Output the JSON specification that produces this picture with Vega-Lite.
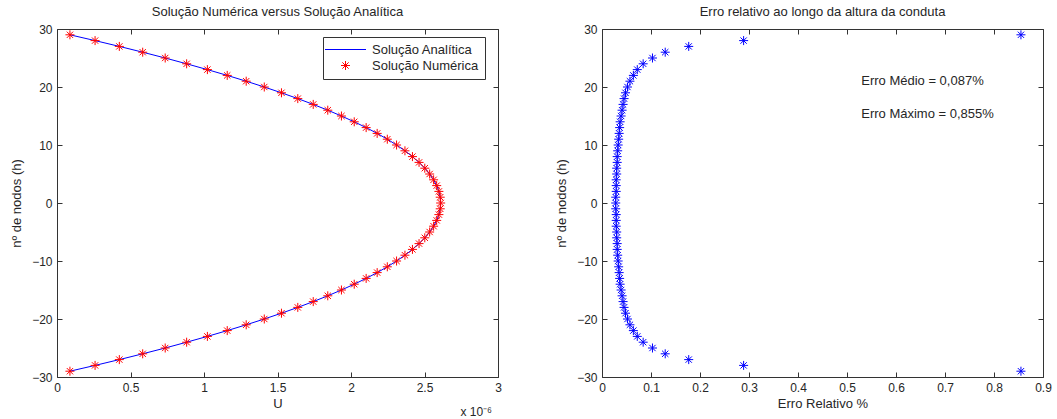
{
  "$schema": "https://vega.github.io/schema/vega-lite/v6.json",
  "padding": {"left": 10, "top": 5, "right": 5, "bottom": 2},
  "background": "white",
  "config": {
    "font": "Liberation Sans",
    "view": {"stroke": "#333333", "strokeWidth": 1},
    "axis": {
      "grid": false, "domain": false, "tickSize": -5, "tickColor": "#333333", "tickWidth": 1,
      "labelFontSize": 12, "labelColor": "#262626", "labelPadding": 10, "labelFlush": false, "labelOverlap": false,
      "titleFontSize": 13, "titleFontWeight": "normal", "titleColor": "#262626"
    },
    "title": {"fontSize": 13, "fontWeight": "normal", "color": "#262626", "offset": 0}
  },
  "datasets": {
    "perfil": [
      {"h": 29, "ana": 0.088, "num": 0.088}, {"h": 28, "ana": 0.259, "num": 0.259}, {"h": 27, "ana": 0.424, "num": 0.424},
      {"h": 26, "ana": 0.583, "num": 0.583}, {"h": 25, "ana": 0.736, "num": 0.736}, {"h": 24, "ana": 0.882, "num": 0.882},
      {"h": 23, "ana": 1.023, "num": 1.023}, {"h": 22, "ana": 1.158, "num": 1.158}, {"h": 21, "ana": 1.287, "num": 1.287},
      {"h": 20, "ana": 1.410, "num": 1.410}, {"h": 19, "ana": 1.527, "num": 1.527}, {"h": 18, "ana": 1.638, "num": 1.638},
      {"h": 17, "ana": 1.743, "num": 1.743}, {"h": 16, "ana": 1.842, "num": 1.842}, {"h": 15, "ana": 1.935, "num": 1.935},
      {"h": 14, "ana": 2.022, "num": 2.022}, {"h": 13, "ana": 2.103, "num": 2.103}, {"h": 12, "ana": 2.178, "num": 2.178},
      {"h": 11, "ana": 2.247, "num": 2.247}, {"h": 10, "ana": 2.310, "num": 2.310}, {"h": 9, "ana": 2.367, "num": 2.367},
      {"h": 8, "ana": 2.418, "num": 2.418}, {"h": 7, "ana": 2.463, "num": 2.463}, {"h": 6, "ana": 2.502, "num": 2.502},
      {"h": 5, "ana": 2.535, "num": 2.535}, {"h": 4, "ana": 2.562, "num": 2.562}, {"h": 3, "ana": 2.583, "num": 2.583},
      {"h": 2, "ana": 2.598, "num": 2.598}, {"h": 1, "ana": 2.607, "num": 2.607}, {"h": 0, "ana": 2.610, "num": 2.610},
      {"h": -1, "ana": 2.607, "num": 2.607}, {"h": -2, "ana": 2.598, "num": 2.598}, {"h": -3, "ana": 2.583, "num": 2.583},
      {"h": -4, "ana": 2.562, "num": 2.562}, {"h": -5, "ana": 2.535, "num": 2.535}, {"h": -6, "ana": 2.502, "num": 2.502},
      {"h": -7, "ana": 2.463, "num": 2.463}, {"h": -8, "ana": 2.418, "num": 2.418}, {"h": -9, "ana": 2.367, "num": 2.367},
      {"h": -10, "ana": 2.310, "num": 2.310}, {"h": -11, "ana": 2.247, "num": 2.247}, {"h": -12, "ana": 2.178, "num": 2.178},
      {"h": -13, "ana": 2.103, "num": 2.103}, {"h": -14, "ana": 2.022, "num": 2.022}, {"h": -15, "ana": 1.935, "num": 1.935},
      {"h": -16, "ana": 1.842, "num": 1.842}, {"h": -17, "ana": 1.743, "num": 1.743}, {"h": -18, "ana": 1.638, "num": 1.638},
      {"h": -19, "ana": 1.527, "num": 1.527}, {"h": -20, "ana": 1.410, "num": 1.410}, {"h": -21, "ana": 1.287, "num": 1.287},
      {"h": -22, "ana": 1.158, "num": 1.158}, {"h": -23, "ana": 1.023, "num": 1.023}, {"h": -24, "ana": 0.882, "num": 0.882},
      {"h": -25, "ana": 0.736, "num": 0.736}, {"h": -26, "ana": 0.583, "num": 0.583}, {"h": -27, "ana": 0.424, "num": 0.424},
      {"h": -28, "ana": 0.259, "num": 0.259}, {"h": -29, "ana": 0.088, "num": 0.088}
    ],
    "erro": [
      {"h": 29, "e": 0.855}, {"h": 28, "e": 0.289}, {"h": 27, "e": 0.177}, {"h": 26, "e": 0.129}, {"h": 25, "e": 0.103},
      {"h": 24, "e": 0.084}, {"h": 23, "e": 0.072}, {"h": 22, "e": 0.064}, {"h": 21, "e": 0.057}, {"h": 20, "e": 0.052},
      {"h": 19, "e": 0.048}, {"h": 18, "e": 0.045}, {"h": 17, "e": 0.043}, {"h": 16, "e": 0.041}, {"h": 15, "e": 0.039},
      {"h": 14, "e": 0.037}, {"h": 13, "e": 0.036}, {"h": 12, "e": 0.035}, {"h": 11, "e": 0.034}, {"h": 10, "e": 0.033},
      {"h": 9, "e": 0.032}, {"h": 8, "e": 0.031}, {"h": 7, "e": 0.031}, {"h": 6, "e": 0.030}, {"h": 5, "e": 0.030},
      {"h": 4, "e": 0.029}, {"h": 3, "e": 0.029}, {"h": 2, "e": 0.029}, {"h": 1, "e": 0.028}, {"h": 0, "e": 0.028},
      {"h": -1, "e": 0.028}, {"h": -2, "e": 0.029}, {"h": -3, "e": 0.029}, {"h": -4, "e": 0.029}, {"h": -5, "e": 0.030},
      {"h": -6, "e": 0.030}, {"h": -7, "e": 0.031}, {"h": -8, "e": 0.031}, {"h": -9, "e": 0.032}, {"h": -10, "e": 0.033},
      {"h": -11, "e": 0.034}, {"h": -12, "e": 0.035}, {"h": -13, "e": 0.036}, {"h": -14, "e": 0.037}, {"h": -15, "e": 0.039},
      {"h": -16, "e": 0.041}, {"h": -17, "e": 0.043}, {"h": -18, "e": 0.045}, {"h": -19, "e": 0.048}, {"h": -20, "e": 0.052},
      {"h": -21, "e": 0.057}, {"h": -22, "e": 0.064}, {"h": -23, "e": 0.072}, {"h": -24, "e": 0.084}, {"h": -25, "e": 0.103},
      {"h": -26, "e": 0.129}, {"h": -27, "e": 0.177}, {"h": -28, "e": 0.289}, {"h": -29, "e": 0.855}
    ]
  },
  "spacing": 53,
  "hconcat": [
    {
      "width": 441,
      "height": 348,
      "title": {"text": "Solução Numérica versus Solução Analítica", "anchor": "middle"},
      "layer": [
        {
          "data": {"name": "perfil"},
          "mark": {"type": "line", "strokeWidth": 1},
          "encoding": {
            "x": {"field": "ana", "type": "quantitative", "scale": {"domain": [0, 3], "nice": false, "zero": false},
                  "axis": {"orient": "bottom", "title": "U", "values": [0, 0.5, 1, 1.5, 2, 2.5, 3], "format": ".1~f", "titlePadding": 4}},
            "y": {"field": "h", "type": "quantitative", "scale": {"domain": [-30, 30], "nice": false, "zero": false},
                  "axis": {"orient": "left", "title": "nº de nodos (h)", "values": [-30, -20, -10, 0, 10, 20, 30], "titlePadding": 8}},
            "color": {"datum": "Solução Analítica", "type": "nominal",
                      "scale": {"domain": ["Solução Analítica", "Solução Numérica"], "range": ["#0000ff", "#ff0000"]},
                      "legend": {
                        "title": null, "orient": "none", "legendX": 266, "legendY": 8,
                        "strokeColor": "#333333", "fillColor": "white", "padding": 6,
                        "labelFontSize": 13, "labelColor": "#262626", "symbolSize": 100, "rowPadding": 2,
                        "symbolOffset": 10, "labelOffset": 20, "symbolStrokeWidth": 1,
                        "encode": {"symbols": {"update": {
                          "shape": {"signal": "datum.value === 'Solução Analítica' ? 'stroke' : 'M-1,0L1,0M0,-1L0,1M-0.7,-0.7L0.7,0.7M-0.7,0.7L0.7,-0.7'"},
                          "size": {"signal": "datum.value === 'Solução Analítica' ? 1681 : 81"},
                          "stroke": {"scale": "color", "field": "value"},
                          "strokeWidth": {"value": 1},
                          "opacity": {"value": 1},
                          "strokeOpacity": {"value": 1},
                          "fill": {"value": "transparent"}
                        }}}
                      }},
            "order": {"field": "h", "type": "quantitative"}
          }
        },
        {
          "data": {"name": "perfil"},
          "mark": {"type": "point", "shape": "M-1,0L1,0M0,-1L0,1M-0.7,-0.7L0.7,0.7M-0.7,0.7L0.7,-0.7", "size": 81, "filled": false, "strokeWidth": 1, "opacity": 1},
          "encoding": {
            "x": {"field": "num", "type": "quantitative",
                  "axis": {"orient": "top", "labels": false, "title": null, "values": [0, 0.5, 1, 1.5, 2, 2.5, 3]}},
            "y": {"field": "h", "type": "quantitative",
                  "axis": {"orient": "right", "labels": false, "title": null, "values": [-30, -20, -10, 0, 10, 20, 30]}},
            "color": {"datum": "Solução Numérica", "type": "nominal"}
          }
        },
        {
          "data": {"values": [{"t": "x 10⁻⁶"}]},
          "mark": {"type": "text", "align": "right", "baseline": "middle", "dy": 35, "dx": -6, "fontSize": 12, "color": "#262626"},
          "encoding": {
            "x": {"datum": 3, "type": "quantitative", "axis": null},
            "y": {"datum": -30, "type": "quantitative", "axis": null},
            "text": {"field": "t"}
          }
        }
      ],
      "resolve": {"axis": {"x": "independent", "y": "independent"}}
    },
    {
      "width": 441,
      "height": 348,
      "title": {"text": "Erro relativo ao longo da altura da conduta", "anchor": "middle"},
      "layer": [
        {
          "data": {"name": "erro"},
          "mark": {"type": "point", "shape": "M-1,0L1,0M0,-1L0,1M-0.7,-0.7L0.7,0.7M-0.7,0.7L0.7,-0.7", "size": 81, "filled": false, "strokeWidth": 1, "color": "#0000ff", "opacity": 1},
          "encoding": {
            "x": {"field": "e", "type": "quantitative", "scale": {"domain": [0, 0.9], "nice": false, "zero": false},
                  "axis": {"orient": "bottom", "title": "Erro Relativo %", "values": [0, 0.1, 0.2, 0.3, 0.4, 0.5, 0.6, 0.7, 0.8, 0.9], "format": ".1~f", "titlePadding": 4}},
            "y": {"field": "h", "type": "quantitative", "scale": {"domain": [-30, 30], "nice": false, "zero": false},
                  "axis": {"orient": "left", "title": "nº de nodos (h)", "values": [-30, -20, -10, 0, 10, 20, 30], "titlePadding": 8}}
          }
        },
        {
          "data": {"name": "erro"},
          "mark": {"type": "point", "opacity": 0},
          "encoding": {
            "x": {"field": "e", "type": "quantitative",
                  "axis": {"orient": "top", "labels": false, "title": null, "values": [0, 0.1, 0.2, 0.3, 0.4, 0.5, 0.6, 0.7, 0.8, 0.9]}},
            "y": {"field": "h", "type": "quantitative",
                  "axis": {"orient": "right", "labels": false, "title": null, "values": [-30, -20, -10, 0, 10, 20, 30]}}
          }
        },
        {
          "data": {"values": [{"t": "Erro Médio = 0,087%"}]},
          "mark": {"type": "text", "align": "left", "baseline": "middle", "fontSize": 13, "color": "#262626"},
          "encoding": {
            "x": {"datum": 0.529, "type": "quantitative", "axis": null},
            "y": {"datum": 21, "type": "quantitative", "axis": null},
            "text": {"field": "t"}
          }
        },
        {
          "data": {"values": [{"t": "Erro Máximo = 0,855%"}]},
          "mark": {"type": "text", "align": "left", "baseline": "middle", "fontSize": 13, "color": "#262626"},
          "encoding": {
            "x": {"datum": 0.529, "type": "quantitative", "axis": null},
            "y": {"datum": 15.3, "type": "quantitative", "axis": null},
            "text": {"field": "t"}
          }
        }
      ],
      "resolve": {"axis": {"x": "independent", "y": "independent"}}
    }
  ]
}
